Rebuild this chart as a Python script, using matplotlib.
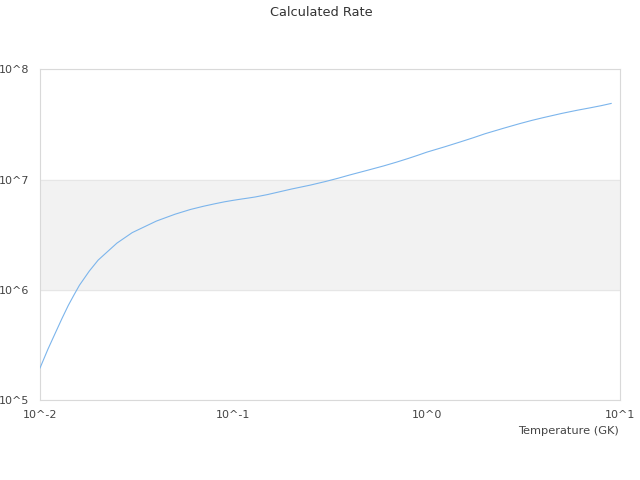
import matplotlib
matplotlib.use('Agg')
import matplotlib.pyplot as plt
from matplotlib.ticker import FixedLocator, FixedFormatter

# temperature grid (GK) and calculated rate
temp = [0.01, 0.011, 0.012, 0.013, 0.014, 0.015, 0.016, 0.018, 0.02, 0.025,
        0.03, 0.04, 0.05, 0.06, 0.07, 0.08, 0.09, 0.1, 0.11, 0.12, 0.13,
        0.15, 0.2, 0.25, 0.3, 0.35, 0.4, 0.5, 0.6, 0.7, 0.8, 0.9, 1.0,
        1.25, 1.5, 1.75, 2.0, 2.5, 3.0, 3.5, 4.0, 5.0, 6.0, 7.0, 8.0, 9.0]
rate = [1.95e5, 2.9e5, 4.05e5, 5.5e5, 7.2e5, 9.0e5, 1.1e6, 1.48e6, 1.86e6, 2.65e6,
        3.3e6, 4.2e6, 4.85e6, 5.35e6, 5.72e6, 6.02e6, 6.28e6, 6.48e6, 6.65e6, 6.8e6, 6.95e6,
        7.3e6, 8.2e6, 8.9e6, 9.6e6, 1.03e7, 1.10e7, 1.22e7, 1.33e7, 1.44e7, 1.55e7, 1.66e7, 1.77e7,
        1.99e7, 2.2e7, 2.4e7, 2.6e7, 2.92e7, 3.2e7, 3.44e7, 3.64e7, 3.98e7, 4.25e7, 4.47e7, 4.68e7, 4.9e7]

xticks = [0.01, 0.1, 1, 10]
xlabels = ['10^-2', '10^-1', '10^0', '10^1']
yticks = [1e5, 1e6, 1e7, 1e8]
ylabels = ['10^5', '10^6', '10^7', '10^8']

fig = plt.figure(figsize=(6.4, 4.8), dpi=100)
ax = fig.add_axes([40/640, 80/480, 580/640, 330.7/480])

ax.axhspan(1e6, 1e7, color='#f2f2f2', zorder=0)
for yv in yticks:
    ax.axhline(yv, color='#e6e6e6', lw=0.8, zorder=1)

ax.plot(temp, rate, color='#7cb5ec', lw=0.8, zorder=3)

ax.set_xscale('log')
ax.set_yscale('log')
ax.set_xlim(0.01, 10)
ax.set_ylim(1e5, 1e8)
ax.xaxis.set_major_locator(FixedLocator(xticks))
ax.xaxis.set_major_formatter(FixedFormatter(xlabels))
ax.yaxis.set_major_locator(FixedLocator(yticks))
ax.yaxis.set_major_formatter(FixedFormatter(ylabels))
ax.xaxis.set_minor_locator(FixedLocator([]))
ax.yaxis.set_minor_locator(FixedLocator([]))
ax.tick_params(length=0, labelsize=8, colors='#444444')
ax.tick_params(axis='x', pad=7)
ax.tick_params(axis='y', pad=7.5)
for s in ax.spines.values():
    s.set_color('#d9d9d9')
    s.set_linewidth(0.8)

fig.text(321/640, 1 - 12/480, 'Calculated Rate', ha='center', va='center',
         fontsize=9.3, color='#333333')
fig.text(619/640, 1 - 431/480, 'Temperature (GK)', ha='right', va='center',
         fontsize=8.2, color='#444444')

fig.savefig('out.png', dpi=100)
